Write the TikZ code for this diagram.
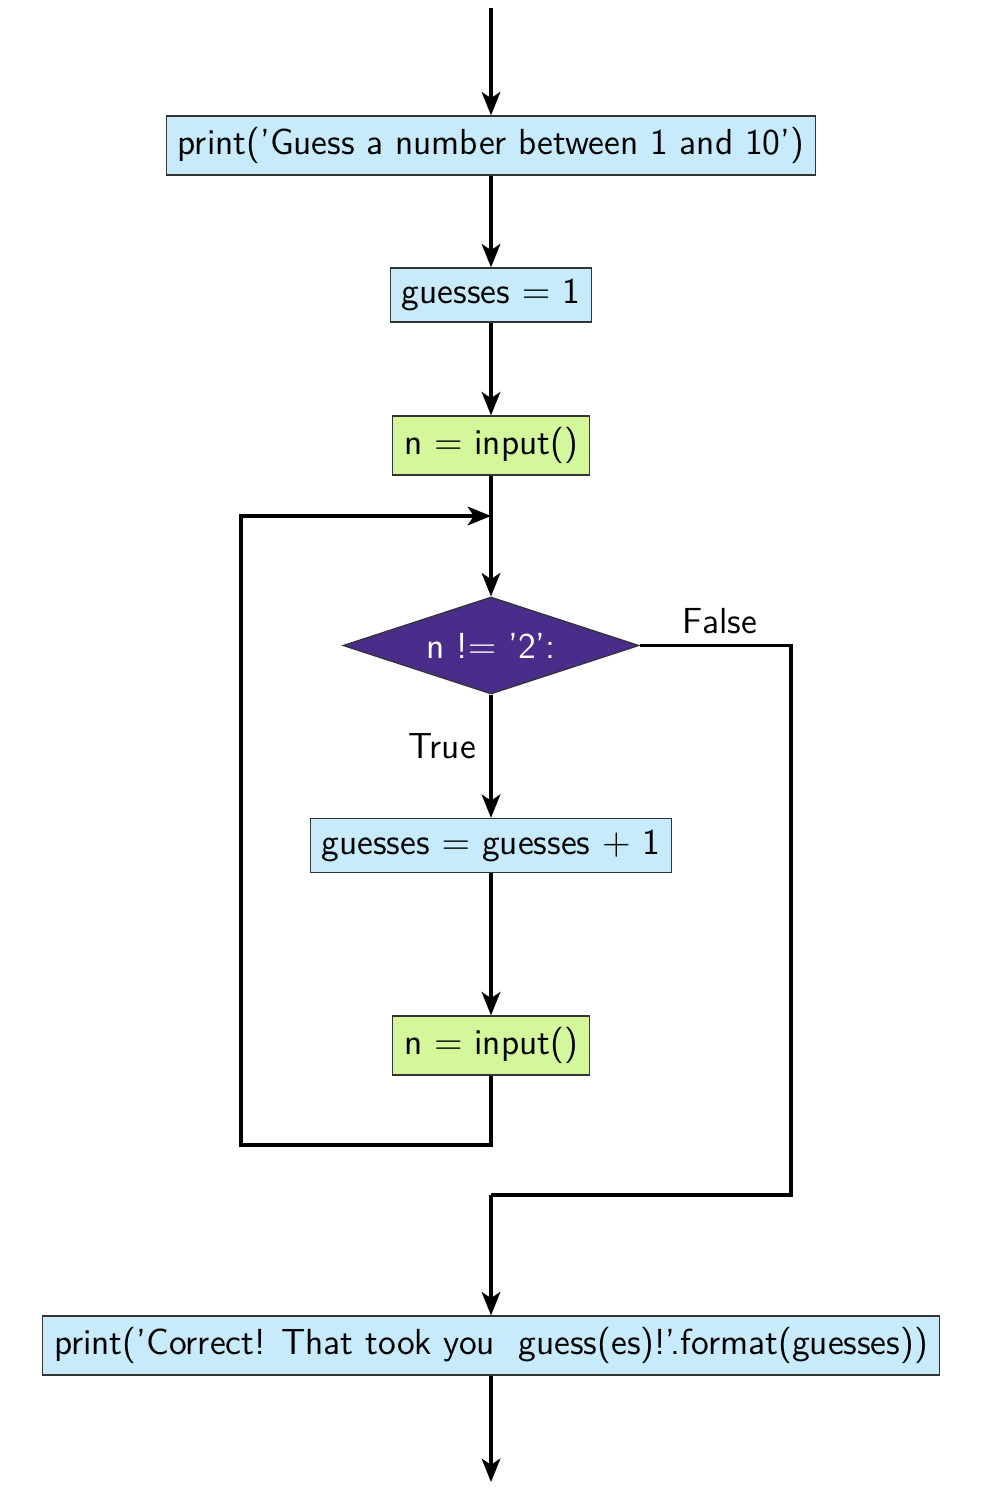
\documentclass[tikz,border=0pt]{standalone}
\usetikzlibrary{shapes.geometric,arrows.meta}
\definecolor{boxblue}{HTML}{C7EBFB}
\definecolor{boxgreen}{HTML}{D5F79B}
\definecolor{dpurple}{HTML}{4A2C8A}
\definecolor{bordergray}{HTML}{333333}
\begin{document}
\begin{tikzpicture}[x=0.32pt,y=-0.32pt,font=\sffamily\fontsize{11.6}{13.5}\selectfont,
  proc/.style={draw=bordergray,line width=0.4pt,fill=boxblue,inner xsep=3.6pt,minimum height=59*0.32pt},
  inp/.style={draw=bordergray,line width=0.4pt,fill=boxgreen,inner xsep=3.6pt,minimum height=59*0.32pt},
  dec/.style={diamond,aspect=3,draw=bordergray,line width=0.4pt,fill=dpurple,text=white,minimum width=296*0.32pt,minimum height=97*0.32pt,inner sep=1pt},
  flow/.style={line width=1pt,-{Stealth[length=7.5pt,width=6pt,inset=2pt]}},
  plain/.style={line width=1pt}]
\useasboundingbox (0,0) rectangle (982,1496);
\node[proc] (p1) at (491,145.5) {print('Guess a number between 1 and 10')};
\node[proc,minimum height=54*0.32pt] (g1) at (491,295) {guesses $=$ 1};
\node[inp] (i1) at (491,445.5) {n $=$ input()};
\node[dec] (d) at (491,645.5) {n !$=$ '2':};
\node[proc,minimum height=54*0.32pt] (g2) at (491,845.5) {guesses $=$ guesses $+$ 1};
\node[inp] (i2) at (491,1045.5) {n $=$ input()};
\node[proc] (p2) at (491,1345.5) {print('Correct! That took you \ guess(es)!'.format(guesses))};
\coordinate (start) at (491,8);
\coordinate (end) at (491,1482);
\coordinate (join) at (491,516);
\coordinate (merge) at (491,1195);
\draw[flow] (start) -- (p1);
\draw[flow] (p1) -- (g1);
\draw[flow] (g1) -- (i1);
\draw[flow] (i1) -- (d);
\draw[flow] (d) -- node[left,pos=0.42,xshift=-1pt] {True} (g2);
\draw[flow] (g2) -- (i2);
\draw[flow] (i2.south) |- (241,1145) |- (join);
\draw[plain] (d.east) -- node[above,pos=0.53] {False} (791,645.5) |- (merge);
\draw[flow] (merge) -- (p2);
\draw[flow] (p2) -- (end);
\end{tikzpicture}
\end{document}
